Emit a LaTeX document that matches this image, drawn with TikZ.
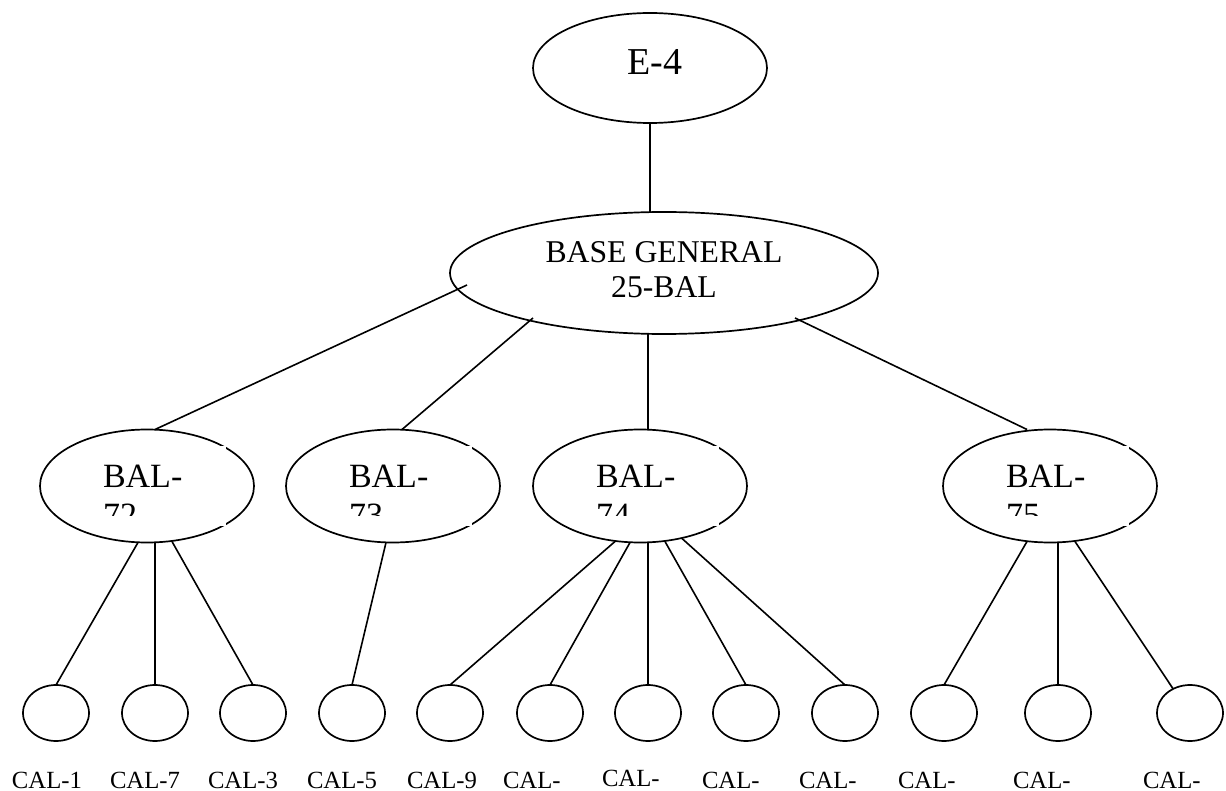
\documentclass[tikz,border=0pt]{standalone}
\usepackage{fontspec}
\setmainfont{Liberation Serif}
\usetikzlibrary{shapes.geometric}
\begin{document}
\begin{tikzpicture}[x=1pt,y=-1pt,
  every node/.style={inner sep=0pt, outer sep=0pt},
  oval/.style={ellipse, draw, line width=1.7pt, inner sep=0pt},
  link/.style={line width=1.6pt},
  leaf/.style={oval, minimum width=66pt, minimum height=56pt},
  midnode/.style={oval, minimum width=214pt, minimum height=113pt},
  baltext/.style={font=\fontsize{34}{39}\selectfont, align=left, anchor=base west},
  leaflabel/.style={font=\fontsize{24.7}{28}\selectfont, anchor=base west}]
\useasboundingbox (0,0) rectangle (1226,791);

% root and main base
\node[oval, minimum width=234pt, minimum height=110pt] (e4) at (650,68) {};
\node[font=\fontsize{38}{42}\selectfont, anchor=base] (e4t) at (655,75) {E-4};
\node[oval, minimum width=428pt, minimum height=122pt] (base) at (664,273) {};
\node[font=\fontsize{31.7}{35}\selectfont, align=center, anchor=base] (baset) at (664,298) {BASE GENERAL\\25-BAL};

% second level
\foreach \n/\x in {b72/147, b73/393, b74/640, b75/1050}
  \node[midnode] (\n) at (\x,486) {};

% third level
\foreach \n/\x in {c1/56, c2/155, c3/253, c4/352, c5/450, c6/550,
                   c7/648, c8/746, c9/845, c10/944, c11/1058, c12/1190}
  \node[leaf] (\n) at (\x,713) {};

% connectors
\draw[link] (e4.south) -- (e4.south |- base.north);
\draw[link] ([xshift=8pt]b72.north) -- ([shift={(17,12)}]base.west);
\draw[link] ([xshift=9pt]b73.north) -- ([shift={(-131,45)}]base.center);
\draw[link] ([xshift=8pt]b74.north) -- ([xshift=-16pt]base.south);
\draw[link] ([xshift=-23pt]b75.north) -- ([shift={(131,45)}]base.center);

\draw[link] ([xshift=-9pt]b72.south) -- (c1.north);
\draw[link] ([xshift=8pt]b72.south) -- (c2.north);
\draw[link] ([shift={(25,-1)}]b72.south) -- (c3.north);

\draw[link] ([xshift=-7pt]b73.south) -- (c4.north);

\draw[link] ([shift={(-25,-1)}]b74.south) -- (c5.north);
\draw[link] ([xshift=-10pt]b74.south) -- (c6.north);
\draw[link] ([xshift=8pt]b74.south) -- (c7.north);
\draw[link] ([shift={(25,-1)}]b74.south) -- (c8.north);
\draw[link] ([shift={(42,-4)}]b74.south) -- (c9.north);

\draw[link] ([shift={(-23,-1)}]b75.south) -- (c10.north);
\draw[link] ([xshift=8pt]b75.south) -- (c11.north);
\draw[link] ([shift={(25,-1)}]b75.south) -- (c12.125);

% text boxes of the second level, cut off at the bottom
\foreach \n/\t in {b72/72, b73/73, b74/74, b75/75} {
  \begin{scope}
    \fill[white] ([shift={(-52,-40)}]\n.center) rectangle ([shift={(79,40)}]\n.center);
    \clip ([shift={(-52,-40)}]\n.center) rectangle ([shift={(79,29)}]\n.center);
    \node[baltext] (t\n) at ([shift={(-44,40)}]\n.center) {BAL-\\\t};
  \end{scope}
}

% leaf labels
\node[leaflabel] (l1) at (12,788) {CAL-1};
\node[leaflabel] (l2) at (110,788) {CAL-7};
\node[leaflabel] (l3) at (208,788) {CAL-3};
\node[leaflabel] (l4) at (307,788) {CAL-5};
\node[leaflabel] (l5) at (407,788) {CAL-9};
\node[leaflabel] (l6) at (503,788) {CAL-};
\node[leaflabel] (l7) at (602,786) {CAL-};
\node[leaflabel] (l8) at (702,788) {CAL-};
\node[leaflabel] (l9) at (799,788) {CAL-};
\node[leaflabel] (l10) at (898,788) {CAL-};
\node[leaflabel] (l11) at (1013,788) {CAL-};
\node[leaflabel] (l12) at (1143,788) {CAL-};
\end{tikzpicture}
\end{document}
